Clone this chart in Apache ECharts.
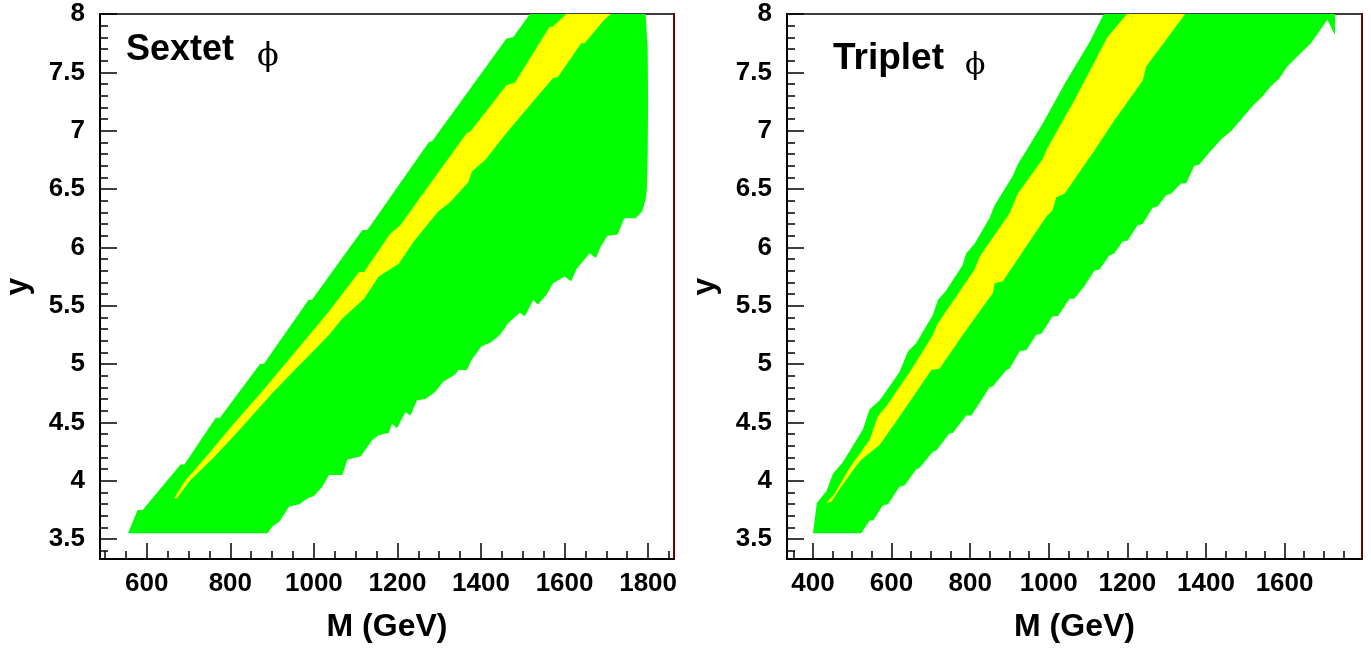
<!DOCTYPE html>
<html><head><meta charset="utf-8">
<script src="https://cdn.jsdelivr.net/npm/echarts@6/dist/echarts.min.js"></script>
<style>html,body{margin:0;padding:0;background:#fff}#c{width:1371px;height:648px}</style>
</head><body><div id="c"></div>
<script>
// ---------- Sextet panel: green (outer) region boundary ----------
const sextetGreenM = [555,578,590,681,690,765,775,871,880,987,995,1116,1128,1275,1283,1461,1477,1517,
  1794,1799,1800,1799,1797,1794,
  1786,1770,1743,1727,1703,1687,1675,1660,1628,1616,1600,1572,1556,1536,1525,1505,1493,1465,1445,1425,1401,1378,1366,1346,1338,1310,1290,1267,1247,1231,1219,1199,1187,1179,1155,1140,1112,1080,1068,1036,1020,1000,985,965,941,917,901,889];
const sextetGreenY = [3.55,3.75,3.75,4.14,4.14,4.54,4.54,5.0,5.0,5.55,5.55,6.15,6.15,6.90,6.91,7.79,7.80,8.0,
  8.0,7.7,7.26,6.8,6.5,6.41,
  6.31,6.25,6.25,6.11,6.10,6.01,5.91,5.95,5.81,5.71,5.75,5.69,5.59,5.51,5.55,5.41,5.44,5.35,5.25,5.19,5.15,5.04,4.95,4.95,4.91,4.85,4.76,4.70,4.69,4.56,4.59,4.45,4.49,4.41,4.39,4.35,4.21,4.18,4.05,4.05,3.95,3.87,3.85,3.80,3.78,3.65,3.61,3.55];
// ---------- Sextet panel: yellow (inner) region boundary ----------
const sextetYellowM = [665,692,750,808,882,1036,1108,1120,1183,1207,1251,1279,1366,1374,1461,1481,1564,1572,1604,
  1711,1695,1648,1640,1584,1572,1520,1461,1410,1378,1370,1324,1298,1275,1239,1203,1155,1120,1068,1036,960,900,820,760,703,672];
const sextetYellowY = [3.85,4.0,4.24,4.49,4.79,5.45,5.79,5.79,6.12,6.19,6.41,6.55,6.98,6.99,7.39,7.41,7.89,7.89,8.0,
  8.0,7.95,7.75,7.75,7.46,7.45,7.23,6.98,6.75,6.65,6.56,6.38,6.31,6.21,6.05,5.86,5.75,5.56,5.39,5.25,4.97,4.75,4.43,4.2,4.0,3.85];
// ---------- Triplet panel: green (outer) region boundary ----------
const tripletGreenM = [400,410,434,451,476,527,544,570,620,642,663,705,718,739,781,790,811,849,862,875,908,921,943,986,1042,1104,1140,
  1729,1728,1709,1688,1667,1637,1607,1587,1565,1543,1518,1493,1465,1440,1413,1383,1370,1350,1337,1311,1299,1277,1264,1239,1226,1201,1188,1167,1154,1129,1116,1095,1091,1065,1053,1023,1010,981,968,943,926,900,892,858,849,832,803,790,756,748,714,705,671,663,633,620,591,578,553,544,523];
const tripletGreenY = [3.55,3.81,3.91,4.06,4.16,4.44,4.61,4.69,4.93,5.11,5.18,5.42,5.55,5.63,5.85,5.95,6.03,6.25,6.36,6.43,6.61,6.71,6.83,7.07,7.41,7.76,8.0,
  8.0,7.82,7.95,7.85,7.75,7.65,7.55,7.45,7.38,7.29,7.21,7.11,7.0,6.93,6.83,6.71,6.70,6.55,6.55,6.46,6.45,6.35,6.34,6.20,6.19,6.06,6.05,5.95,5.93,5.81,5.80,5.69,5.67,5.56,5.56,5.41,5.41,5.26,5.25,5.12,5.11,4.96,4.95,4.81,4.80,4.71,4.56,4.56,4.41,4.41,4.26,4.25,4.11,4.10,3.96,3.95,3.80,3.79,3.66,3.66,3.55];
// ---------- Triplet panel: yellow (inner) region boundary ----------
const tripletYellowM = [434,455,493,544,565,587,646,705,718,781,811,824,900,921,985,993,1070,1149,1199,
  1347,1248,1239,1167,1116,1040,1019,1010,993,943,883,862,858,815,777,722,701,667,612,570,523,506,464,447];
const tripletYellowY = [3.81,3.89,4.11,4.35,4.55,4.64,4.93,5.25,5.35,5.66,5.81,5.92,6.29,6.46,6.76,6.83,7.29,7.80,8.0,
  8.0,7.55,7.43,7.09,6.83,6.46,6.43,6.32,6.26,6.01,5.71,5.69,5.61,5.41,5.23,4.96,4.95,4.78,4.51,4.31,4.18,4.11,3.91,3.82];

// ---------- ticks ----------
const sextetXTicks = [600,800,1000,1200,1400,1600,1800];
const tripletXTicks = [400,600,800,1000,1200,1400,1600];
const yTicks = [3.5,4,4.5,5,5.5,6,6.5,7,7.5,8];
function stepList(a, b, s) { const r = []; for (let v = a; v <= b + 1e-9; v += s) r.push(Math.round(v * 1000) / 1000); return r; }
const sextetXMinor = stepList(500, 1850, 50);
const tripletXMinor = stepList(350, 1750, 50);
const yMinor = stepList(3.4, 8.0, 0.1);

const sextetRange = [488, 1862];
const tripletRange = [334, 1797];
const yRange = [3.33, 8];

const GREEN = '#00ff00', YELLOW = '#ffff00';
const FONT = 'Liberation Sans';

function polySeries(ms, ys, color, xi, yi) {
  const data = ms.map((m, i) => [m, ys[i]]);
  return {
    type: 'custom', xAxisIndex: xi, yAxisIndex: yi, silent: true, animation: false,
    data: data, encode: { x: 0, y: 1 }, clip: true,
    renderItem: function (params, api) {
      if (params.dataIndex !== 0) return null;
      const pts = data.map(d => api.coord(d));
      return { type: 'polygon', shape: { points: pts }, style: { fill: color, stroke: null } };
    }
  };
}

const plain = v => String(Math.round(v * 100) / 100);
const labelStyle = { fontSize: 26, fontWeight: 'bold', fontFamily: FONT, color: '#000', formatter: plain };
const nameStyle = { fontSize: 32, fontWeight: 'bold', fontFamily: FONT, color: '#000' };

function xAxes(gi, range, major, minor) {
  return [
    { type: 'value', gridIndex: gi, min: range[0], max: range[1], position: 'bottom',
      axisLine: { show: true, onZero: false, lineStyle: { color: '#000', width: 2 } },
      axisTick: { show: true, inside: true, length: 16, customValues: major, lineStyle: { color: '#000', width: 1.5 } },
      axisLabel: Object.assign({ show: true, customValues: major, margin: 12 }, labelStyle),
      splitLine: { show: false },
      name: 'M (GeV)', nameLocation: 'middle', nameGap: 52, nameTextStyle: nameStyle },
    { type: 'value', gridIndex: gi, min: range[0], max: range[1], position: 'bottom',
      axisLine: { show: false, onZero: false },
      axisTick: { show: true, inside: true, length: 8, customValues: minor, lineStyle: { color: '#000', width: 1.5 } },
      axisLabel: { show: false }, splitLine: { show: false } }
  ];
}
function yAxes(gi, major, minor) {
  return [
    { type: 'value', gridIndex: gi, min: yRange[0], max: yRange[1], position: 'left',
      axisLine: { show: true, onZero: false, lineStyle: { color: '#000', width: 2 } },
      axisTick: { show: true, inside: true, length: 17, customValues: major, lineStyle: { color: '#000', width: 1.5 } },
      axisLabel: Object.assign({ show: true, customValues: major, margin: 15 }, labelStyle),
      splitLine: { show: false },
      name: 'y', nameLocation: 'middle', nameGap: 66, nameRotate: 90, nameTextStyle: nameStyle },
    { type: 'value', gridIndex: gi, min: yRange[0], max: yRange[1], position: 'left',
      axisLine: { show: false, onZero: false },
      axisTick: { show: true, inside: true, length: 8, customValues: minor, lineStyle: { color: '#000', width: 1.5 } },
      axisLabel: { show: false }, splitLine: { show: false } },
    { type: 'value', gridIndex: gi, min: yRange[0], max: yRange[1], position: 'right',
      axisLine: { show: true, onZero: false, lineStyle: { color: '#6a0000', width: 2 } },
      axisTick: { show: false }, axisLabel: { show: false }, splitLine: { show: false } }
  ];
}

const chart = echarts.init(document.getElementById('c'), null, { renderer: 'canvas' });
chart.setOption({
  backgroundColor: '#fff',
  animation: false,
  grid: [
    { left: 100, top: 14, width: 574, height: 545, show: true, borderColor: '#000', borderWidth: 1.5, backgroundColor: 'transparent' },
    { left: 787, top: 14, width: 575, height: 545, show: true, borderColor: '#000', borderWidth: 1.5, backgroundColor: 'transparent' }
  ],
  xAxis: [].concat(xAxes(0, sextetRange, sextetXTicks, sextetXMinor), xAxes(1, tripletRange, tripletXTicks, tripletXMinor)),
  yAxis: [].concat(yAxes(0, yTicks, yMinor), yAxes(1, yTicks, yMinor)),
  series: [
    polySeries(sextetGreenM, sextetGreenY, GREEN, 0, 0),
    polySeries(sextetYellowM, sextetYellowY, YELLOW, 0, 0),
    polySeries(tripletGreenM, tripletGreenY, GREEN, 2, 3),
    polySeries(tripletYellowM, tripletYellowY, YELLOW, 2, 3)
  ],
  graphic: [
    { type: 'text', x: 126, y: 50, z: 100, style: { text: 'Sextet', fontSize: 36, fontWeight: 'bold', fontFamily: FONT, fill: '#000', align: 'left', verticalAlign: 'middle' } },
    { type: 'text', x: 257, y: 57, z: 100, style: { text: '\u03D5', fontSize: 32, fontFamily: 'DejaVu Serif', fill: '#000', align: 'left', verticalAlign: 'middle' } },
    { type: 'text', x: 833, y: 59, z: 100, style: { text: 'Triplet', fontSize: 37, fontWeight: 'bold', fontFamily: FONT, fill: '#000', align: 'left', verticalAlign: 'middle' } },
    { type: 'text', x: 965, y: 66, z: 100, style: { text: '\u03D5', fontSize: 30, fontFamily: 'DejaVu Serif', fill: '#000', align: 'left', verticalAlign: 'middle' } }
  ]
});
</script>
</body></html>
